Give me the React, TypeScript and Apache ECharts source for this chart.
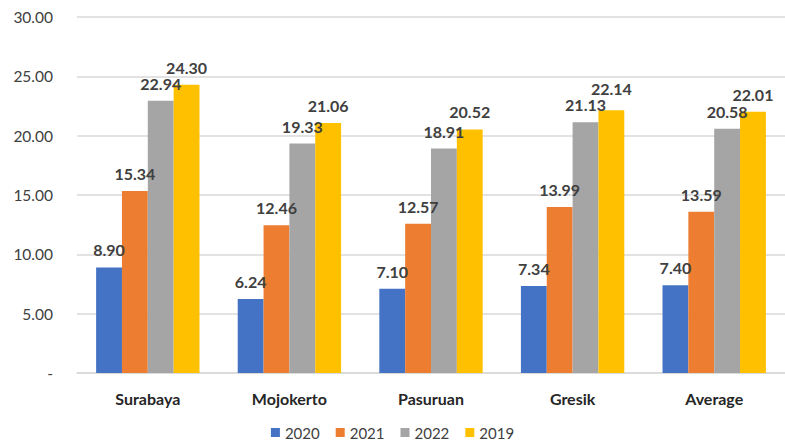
import React, { useEffect, useRef } from "react";
import * as echarts from "echarts";

const categories = ["Surabaya", "Mojokerto", "Pasuruan", "Gresik", "Average"];
const seriesNames = ["2020", "2021", "2022", "2019"];
const v2020 = [8.9, 6.24, 7.1, 7.34, 7.4];
const v2021 = [15.34, 12.46, 12.57, 13.99, 13.59];
const v2022 = [22.94, 19.33, 18.91, 21.13, 20.58];
const v2019 = [24.3, 21.06, 20.52, 22.14, 22.01];
const colors = ["#4472C4", "#ED7D31", "#A5A5A5", "#FFC000"];

const FONT = "Lato, 'Noto Sans', sans-serif";

export default function App() {
  const ref = useRef<HTMLDivElement>(null);
  useEffect(() => {
    if (!ref.current) return;
    const chart = echarts.init(ref.current, null, { renderer: "svg" });
    const data = [v2020, v2021, v2022, v2019];
    chart.setOption({
      animation: false,
      textStyle: { fontFamily: FONT },
      grid: { left: 77, right: -2, top: 17, bottom: 71, containLabel: false },
      legend: {
        bottom: -1,
        left: "center",
        itemWidth: 9,
        itemHeight: 9,
        itemGap: 16,
        icon: "rect",
        textStyle: { fontSize: 15, color: "#404040", fontFamily: FONT },
        data: seriesNames,
      },
      xAxis: {
        type: "category",
        data: categories,
        axisLine: { lineStyle: { color: "#D9D9D9", width: 1.5 } },
        axisTick: { show: false },
        axisLabel: {
          fontSize: 16,
          fontWeight: "bold",
          color: "#262626",
          margin: 17,
          fontFamily: FONT,
        },
      },
      yAxis: {
        type: "value",
        min: 0,
        max: 30,
        interval: 5,
        axisLine: { show: false },
        axisTick: { show: false },
        splitLine: { lineStyle: { color: "#D9D9D9", width: 1.5 } },
        axisLabel: {
          fontSize: 15.5,
          color: "#404040",
          margin: 24,
          fontFamily: FONT,
          formatter: (v: number) => (v === 0 ? "-" : v.toFixed(2)),
        },
      },
      series: seriesNames.map((name, i) => ({
        name,
        type: "bar",
        data: data[i].map((v, j) => {
          // nudge a label that would otherwise collide with its neighbour
          const prev = i > 0 ? data[i - 1][j] : -Infinity;
          const close = v - prev < 1.2;
          return close ? { value: v, label: { distance: 16 } } : v;
        }),
        barGap: "0%",
        barCategoryGap: "27%",
        itemStyle: { color: colors[i] },
        label: {
          show: true,
          position: "top",
          distance: 12,
          fontSize: 16,
          lineHeight: 11,
          fontWeight: "bold",
          color: "#404040",
          fontFamily: FONT,
          formatter: (p: any) => Number(p.value).toFixed(2),
        },
      })),
    });
    return () => chart.dispose();
  }, []);
  return <div ref={ref} style={{ width: 785, height: 444, position: "absolute", left: 0, top: 0 }} />;
}
